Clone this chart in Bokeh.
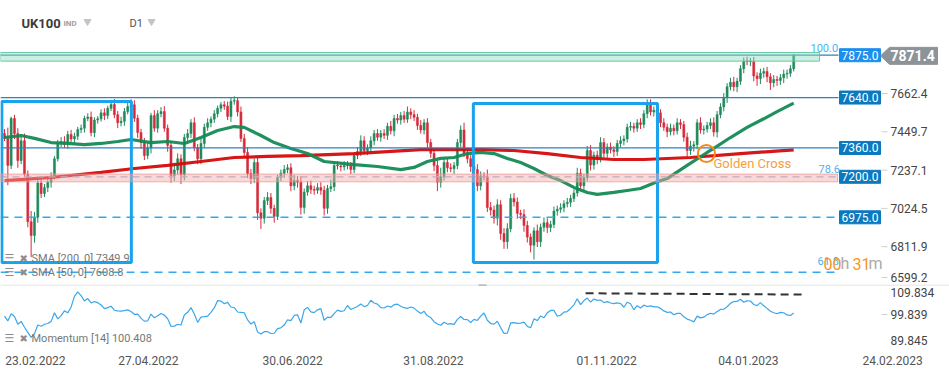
import numpy as np
from bokeh.plotting import figure
from bokeh.layouts import column
from bokeh.models import Range1d, FixedTicker, BoxAnnotation, Span
from bokeh.embed import file_html
from bokeh.resources import INLINE
from bokeh.core.properties import value

# ---------------- data ----------------
symbol = "UK100"
market = "IND"
interval = "D1"

first_open = 7440.0
closes = [
    7413, 7263, 7524, 7440, 7290, 7400, 7215, 6950,
    6874, 6975, 7165, 7107, 7140, 7170, 7205, 7300, 7385, 7395,
    7380, 7435, 7410, 7425, 7462, 7470, 7524, 7532, 7445, 7515,
    7522, 7555, 7540, 7580, 7602, 7545, 7500, 7508, 7562,
    7590, 7600, 7525, 7446, 7390, 7318, 7360, 7540, 7470,
    7550, 7562, 7470, 7374, 7207, 7238, 7300, 7210, 7418,
    7440, 7500, 7362, 7300, 7385, 7475, 7500, 7520, 7550, 7580,
    7600, 7592, 7535, 7620, 7622, 7560, 7413, 7335,
    7218, 7190, 7280, 7000, 6970, 7068, 7085, 7025, 6980, 7196,
    7220, 7240, 7250, 7150, 7180, 7170, 7030, 7115, 7150, 7130,
    7125, 7140, 7125, 7025, 7135, 7145, 7262, 7260, 7255, 7262,
    7262, 7240, 7318, 7340, 7400, 7345, 7360, 7400, 7440, 7420,
    7440, 7430, 7480, 7455, 7524, 7515, 7540, 7520, 7560, 7545,
    7530, 7485, 7460, 7500, 7390, 7330, 7262, 7170,
    7200, 7280, 7250, 7245, 7262, 7390, 7460, 7330, 7300, 7257, 7240,
    7150, 7205, 7200, 7030, 7015, 6970, 7045, 6885, 6840,
    6912, 7080, 7060, 6997, 6990, 6930, 6865, 6820, 6900, 6840,
    6920, 6945, 6918, 6935, 7010, 7020, 7028, 7050, 7058, 7080, 7110,
    7220, 7150, 7195, 7346, 7265, 7320, 7300, 7390, 7330, 7365,
    7350, 7340, 7385, 7400, 7410, 7475, 7480, 7470, 7500, 7490, 7550, 7605,
    7560, 7570, 7555, 7500, 7475, 7450, 7470, 7455, 7500, 7490,
    7420, 7346, 7370, 7378, 7500, 7460, 7465, 7485, 7500, 7448,
    7545, 7588, 7640, 7700, 7725, 7700, 7730, 7800, 7842,
    7839.4, 7840, 7760, 7745, 7775, 7785, 7755, 7722, 7740, 7735, 7750, 7770, 7775, 7800, 7871.4,
]
upper_wick = [
    25, 60, 10, 20, 30, 25, 40, 20,
    60, 30, 20, 40, 20, 30, 20, 15, 20, 25,
    30, 20, 25, 20, 15, 20, 15, 20, 30, 15,
    15, 20, 25, 15, 25, 30, 20, 25, 20,
    20, 30, 25, 20, 20, 25, 30, 15, 30,
    20, 25, 30, 20, 25, 40, 30, 25, 20,
    25, 20, 30, 20, 25, 20, 25, 15, 20, 15,
    15, 20, 25, 20, 25, 20, 30, 25,
    30, 25, 20, 30, 25, 20, 30, 25, 20, 15,
    20, 25, 20, 25, 30, 25, 35, 20, 25, 30,
    20, 25, 30, 25, 20, 40, 20, 25, 20, 25,
    25, 20, 20, 25, 30, 25, 20, 25, 20, 25,
    20, 25, 20, 30, 20, 25, 20, 25, 30, 20,
    25, 20, 30, 20, 25, 20, 25, 30,
    50, 25, 20, 25, 20, 20, 25, 40, 25, 20, 25,
    30, 25, 20, 40, 30, 25, 30, 25, 30,
    30, 25, 30, 25, 20, 30, 25, 20, 20, 35,
    20, 30, 25, 20, 25, 20, 25, 20, 25, 20, 20,
    30, 25, 20, 25, 30, 20, 25, 30, 25, 20,
    25, 20, 20, 25, 20, 20, 25, 20, 20, 25, 20, 25,
    25, 20, 25, 20, 25, 20, 25, 20, 25, 20,
    20, 25, 30, 20, 20, 30, 20, 20, 25, 30,
    20, 20, 25, 20, 25, 30, 20, 20, 20,
    25, 20, 25, 20, 25, 20, 25, 20, 25, 20, 20, 25, 20, 20, 10,
]
lower_wick = [
    15, 110, 20, 30, 40, 20, 15, 30,
    120, 40, 30, 25, 20, 25, 30, 20, 15, 20,
    20, 25, 20, 30, 20, 20, 25, 15, 20, 25,
    20, 15, 25, 20, 15, 20, 30, 20, 25,
    15, 20, 20, 30, 35, 25, 20, 30, 20,
    25, 20, 20, 35, 40, 30, 25, 50, 30,
    20, 25, 20, 30, 30, 25, 20, 25, 20, 20,
    20, 20, 20, 30, 20, 25, 20, 30,
    25, 30, 25, 40, 60, 30, 25, 30, 35, 20,
    20, 25, 20, 30, 25, 30, 40, 35, 20, 25,
    25, 20, 25, 40, 30, 20, 25, 20, 25, 20,
    20, 25, 20, 20, 25, 20, 25, 20, 25, 20,
    25, 20, 25, 20, 30, 20, 25, 20, 20, 25,
    20, 25, 20, 25, 30, 25, 30, 50,
    30, 20, 25, 20, 30, 20, 25, 20, 25, 30, 25,
    30, 25, 20, 25, 30, 30, 40, 35, 40,
    40, 20, 25, 30, 25, 35, 30, 40, 80, 30,
    30, 25, 30, 25, 20, 25, 20, 25, 20, 25, 20,
    20, 30, 25, 20, 30, 25, 30, 20, 25, 25,
    20, 30, 25, 20, 25, 20, 20, 25, 20, 25, 20, 25,
    20, 25, 20, 25, 20, 30, 20, 25, 20, 25,
    25, 40, 25, 30, 25, 20, 25, 20, 20, 25,
    30, 20, 25, 30, 20, 25, 30, 20, 25,
    20, 25, 30, 40, 30, 25, 30, 40, 25, 30, 25, 30, 25, 20, 15,
]
# 14 closes before the first bar (needed for Momentum [14])
pre_closes = [7470, 7460, 7515, 7510, 7585, 7615, 7600, 7475, 7550, 7545, 7480, 7455, 7430, 7440]

sma200_idx = [0, 14, 29, 39, 49, 59, 69, 79, 89, 105, 115, 125, 135, 144, 153, 163, 173, 183, 192, 206, 221, 237]
sma200_val = [7179, 7196, 7224, 7246, 7263, 7285, 7307, 7313, 7318, 7329, 7340, 7351, 7351, 7351, 7346, 7329,
              7307, 7296, 7296, 7307, 7329, 7349.9]
sma50_idx = [0, 5, 9, 14, 19, 24, 29, 34, 38, 44, 49, 54, 59, 64, 69, 72, 77, 81, 86, 91, 96, 105, 112, 119,
             123, 127, 131, 135, 139, 143, 147, 151, 155, 159, 163, 167, 171, 175, 178, 183, 187, 191, 196,
             199, 205, 211, 213, 218, 223, 228, 232, 237]
sma50_val = [7418, 7429, 7413, 7390, 7385, 7379, 7385, 7396, 7407, 7390, 7396, 7385, 7418, 7457, 7479, 7474,
             7429, 7390, 7357, 7329, 7285, 7268, 7257, 7240, 7252, 7285, 7302, 7307, 7329, 7335, 7329, 7302,
             7279, 7246, 7207, 7179, 7141, 7113, 7102, 7113, 7124, 7135, 7172, 7190, 7263, 7335, 7358, 7418,
             7474, 7522, 7562, 7608.8]

level_prices = [7875.0, 7640.0, 7360.0, 7200.0, 6975.0]
fib_names = ["100.0", "78.6", "61.8"]
fib_prices = [7875.0, 7200.0, 6670.0]
green_zone = (7842.0, 7890.0)
red_zone = (7172.0, 7215.0)
box_left = [-0.8, 140.8]
box_right = [38.1, 196.1]
box_bottom = [6724.0, 6724.0]
box_top = [7618.0, 7607.0]
golden_cross_x = [210.8]
golden_cross_y = [7329.0]
mom_res_x = [174.5, 240.5]
mom_res_y = [108.0, 107.5]
price_ticks = [7662.4, 7449.7, 7237.1, 7024.5, 6811.9, 6599.2]
mom_ticks = [109.834, 99.839, 89.845]
date_ticks = [9.3, 43.2, 86.5, 128.8, 180.8, 223.4, 266.7]
date_labels = ["23.02.2022", "27.04.2022", "30.06.2022", "31.08.2022", "01.11.2022", "04.01.2023", "24.02.2023"]
countdown_h, countdown_m = "00", "31"

# ---------------- derived series ----------------
n = len(closes)
xs = np.arange(n)
c = np.array(closes, dtype=float)
o = np.array([first_open] + closes[:-1], dtype=float)
hi = np.maximum(o, c) + np.array(upper_wick, float)
lo = np.minimum(o, c) - np.array(lower_wick, float)
inc = c >= o
body_top = np.maximum(o, c)
body_bot = np.minimum(o, c)
body_top = np.where(body_top - body_bot < 4, body_bot + 4, body_top)
full = np.array(pre_closes + closes, dtype=float)
mom = full[14:] / full[:-14] * 100.0

# ---------------- geometry helpers (pixel -> data, for annotation placement) ----------------
BAR0, BARW = 4.0, 3.33          # pixel of first bar, pixels per bar
PPX = 5.552                     # price points per pixel in main panel
W = 949
def jx(px):
    return (px - BAR0) / BARW
def py(pix):
    return 7662.4 - (pix - 93) * PPX
def my(pix):
    return 99.839 - (pix - 314) / 2.6

FONT = value("Roboto")
GREEN, RED = "#1f8a5b", "#d62a3b"

def put_text(fig, x, y, s, color, size, align="left", bold=False, font=FONT):
    fig.text(x=[x], y=[y], text=[s], text_color=color, text_font=font, text_font_size=size,
             text_align=align, text_baseline="middle",
             text_font_style="bold" if bold else "normal")

def legend_icons(fig, ypos):
    put_text(fig, jx(4), ypos, "\u2630", "#8c8c8c", "11px", font=value("DejaVu Sans"))
    put_text(fig, jx(19), ypos, "\u2716", "#8c8c8c", "10px", font=value("DejaVu Sans"))

def base_fig(height, y_range, bottom, x_range=None):
    f = figure(width=W, height=height, x_range=x_range if x_range is not None else Range1d(jx(0), jx(W)),
               y_range=y_range, output_backend="svg", toolbar_location=None, title=None,
               x_axis_location=None if bottom == 0 else "below", y_axis_location=None,
               min_border_left=0, min_border_right=0, min_border_top=0, min_border_bottom=bottom)
    f.xgrid.visible = False
    f.ygrid.visible = False
    f.outline_line_color = None
    f.background_fill_color = "white"
    f.border_fill_color = "white"
    return f

# ---------------- main panel ----------------
p = base_fig(284, Range1d(py(284), py(0)), 0)

# candles
colors = np.where(inc, GREEN, RED)
p.segment(x0=xs, y0=lo, x1=xs, y1=hi, line_color=colors, line_width=1)
p.vbar(x=xs, width=0.62, top=body_top, bottom=body_bot, fill_color=colors, line_color=colors, line_width=0.5)

# moving averages
p.line(sma200_idx, sma200_val, line_color="#d50b0b", line_width=3.2, line_alpha=0.95)
p.line(sma50_idx, sma50_val, line_color="#138a55", line_width=3.2, line_alpha=0.95)

# zones
right_end = jx(838)
p.add_layout(BoxAnnotation(left=jx(0), right=jx(819), bottom=green_zone[0], top=green_zone[1],
                           fill_color="#8fdcbc", fill_alpha=0.45, line_color="#5cc79c", line_alpha=0.9, line_width=1))
p.add_layout(BoxAnnotation(left=jx(0), right=jx(837), bottom=red_zone[0], top=red_zone[1],
                           fill_color="#f4a9a9", fill_alpha=0.45, line_color="#f08f8f", line_alpha=0.7, line_width=1))

# level lines
p.segment(x0=[jx(0)] * 3, y0=[7875.0, 7640.0, 7360.0], x1=[right_end] * 3, y1=[7875.0, 7640.0, 7360.0],
          line_color="#2f80c2", line_width=1.2)
p.segment(x0=[jx(0)], y0=[7200.0], x1=[right_end], y1=[7200.0], line_color="#8fb0d0", line_width=1.2,
          line_dash="7 5")
p.segment(x0=[jx(0), jx(0)], y0=[6975.0, fib_prices[2]], x1=[right_end, jx(836)], y1=[6975.0, fib_prices[2]],
          line_color="#35a9f0", line_width=1.5, line_dash="8 6")

# blue rectangles
p.quad(left=box_left, right=box_right, bottom=box_bottom, top=box_top, fill_alpha=0,
       line_color="#1aa2ec", line_width=3)

# golden cross
p.scatter(golden_cross_x, golden_cross_y, marker="circle", size=17, fill_alpha=0,
          line_color="#f28a1e", line_width=2)
put_text(p, jx(713), py(163), "Golden Cross", "#f5a03a", "13px")

# level labels (right side boxes)
box_cx = jx(859.5)
box_colors = ["#1c8fee", "#0b79bf", "#0b79bf", "#0b79bf", "#0b79bf"]
p.rect(x=[box_cx] * len(level_prices), y=level_prices, width=41 / BARW, height=13 * PPX,
       fill_color=box_colors, line_color=box_colors)
p.text(x=[box_cx] * len(level_prices), y=level_prices, text=["%.1f" % v for v in level_prices],
       text_color="white", text_font=FONT, text_font_size="12px", text_align="center", text_baseline="middle")

# price scale labels (right)
label_y = list(price_ticks[:-1]) + [py(277)]
p.segment(x0=[jx(881)] * len(label_y), y0=label_y, x1=[jx(887)] * len(label_y), y1=label_y,
          line_color="#d0d0d0", line_width=1)
p.text(x=[jx(890)] * len(label_y), y=label_y, text=["%.1f" % v for v in price_ticks],
       text_color="#444444", text_font=FONT, text_font_size="12px", text_align="left", text_baseline="middle")

# last price tag
tag_h = 8.5 * PPX
last = c[-1]
p.patch(x=[jx(880), jx(889), jx(937), jx(937), jx(889)],
        y=[last, last + tag_h, last + tag_h, last - tag_h, last - tag_h],
        fill_color="#8d9499", line_color="#8d9499")
put_text(p, jx(890), last, "%.1f" % last, "white", "14px", bold=True)

# fib labels
fib_px = [(810, 47), (818, 168), (817, 260)]
for name, (fx, fy) in zip(fib_names, fib_px):
    put_text(p, jx(fx), py(fy), name, "#4ab2f0", "11px")

# countdown
put_text(p, jx(823), py(263), countdown_h, "#f7941d", "16px")
put_text(p, jx(840), py(263), "h", "#aaaaaa", "16px")
put_text(p, jx(852), py(263), countdown_m, "#f7941d", "16px")
put_text(p, jx(868), py(263), "m", "#aaaaaa", "16px")

# legends
for yy, s in [(258, "SMA [200, 0] %.1f" % sma200_val[-1]), (272, "SMA [50, 0] %.1f" % sma50_val[-1])]:
    legend_icons(p, py(yy))
    put_text(p, jx(31), py(yy), s, "#777777", "11px")

# header
put_text(p, jx(21), py(23), symbol, "#3a3a3a", "13px", bold=True)
put_text(p, jx(63), py(23), market, "#a0a0a0", "8px", bold=True)
put_text(p, jx(129), py(23), interval, "#555555", "11px")
p.scatter([jx(87), jx(151)], [py(21), py(21)], marker="inverted_triangle", size=7,
          fill_color="#c4c4c4", line_color="#c4c4c4")

# ---------------- momentum panel ----------------
q = base_fig(86, Range1d(my(345), my(284)), 25, x_range=p.x_range)

xa = q.xaxis[0]
xa.ticker = FixedTicker(ticks=date_ticks)
xa.major_label_overrides = {t: l for t, l in zip(date_ticks, date_labels)}
xa.axis_line_color = None
xa.major_tick_line_color = None
xa.minor_tick_line_color = None
xa.major_label_standoff = 4
xa.major_label_text_font = "Roboto"
xa.major_label_text_font_size = "12px"
xa.major_label_text_color = "#555555"

q.add_layout(Span(location=my(284.5), dimension="width", line_color="#dcdcdc", line_width=1))
q.segment(x0=[jx(478)], y0=[my(284.5)], x1=[jx(486)], y1=[my(284.5)], line_color="#9a9a9a", line_width=2)
q.line(xs, mom, line_color="#3ba7ea", line_width=1.2)
q.line(mom_res_x, mom_res_y, line_color="#333333", line_width=2, line_dash="8 5")

mom_label_y = [my(292), mom_ticks[1], mom_ticks[2]]
q.segment(x0=[jx(881)], y0=[mom_ticks[1]], x1=[jx(887)], y1=[mom_ticks[1]], line_color="#d0d0d0", line_width=1)
q.text(x=[jx(890)] * 3, y=mom_label_y, text=["%.3f" % v for v in mom_ticks],
       text_color="#444444", text_font=FONT, text_font_size="12px", text_align="left", text_baseline="middle")

legend_icons(q, my(338))
put_text(q, jx(31), my(338), "Momentum  [14]  %.3f" % mom[-1], "#777777", "11px")

layout = column(p, q, spacing=0)
html = file_html(layout, INLINE, title="UK100")
html = html.replace("<body>", '<body style="margin:0;overflow:hidden">', 1)
open("out.html", "w").write(html)
